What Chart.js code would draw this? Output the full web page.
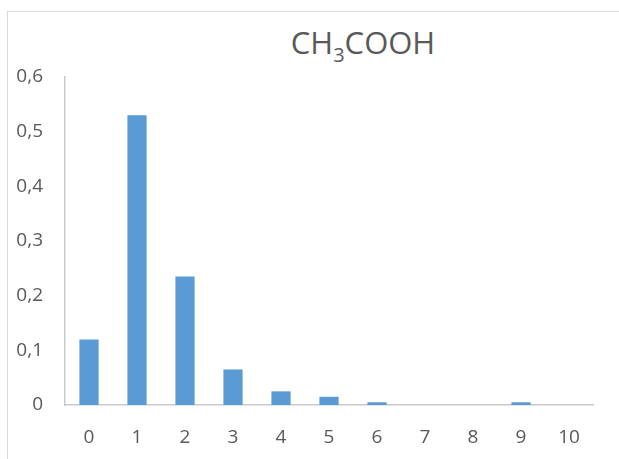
<!DOCTYPE html>
<html>
<head>
<meta charset="utf-8">
<script src="https://cdn.jsdelivr.net/npm/chart.js@4"></script>
<style>
  html, body { margin:0; padding:0; background:#fff; width:619px; height:459px; overflow:hidden; }
  #frame { position:absolute; left:7px; top:11px; width:700px; height:500px;
           border-left:1px solid #d9d9d9; border-top:1px solid #d9d9d9; }
  #wrap { position:absolute; left:0; top:0; width:619px; height:459px; }
  #title { position:absolute; left:213px; top:27px; width:300px; text-align:center;
           font-family:"Open Sans", sans-serif; font-size:31px; line-height:31px; color:#595959; }
  #title span.sub { font-size:20px; position:relative; top:8px; }
</style>
</head>
<body>
<div id="frame"></div>
<div id="title">CH<span class="sub">3</span>COOH</div>
<div id="wrap"><canvas id="c" width="619" height="459"></canvas></div>
<script>
const categories = ['0','1','2','3','4','5','6','7','8','9','10'];
const values = [0.12, 0.53, 0.235, 0.065, 0.025, 0.015, 0.005, 0, 0, 0.005, 0];
const yTickLabels = ['0','0,1','0,2','0,3','0,4','0,5','0,6'];

const tickFont = { family: '"Open Sans", sans-serif', size: 19 };
new Chart(document.getElementById('c'), {
  type: 'bar',
  data: {
    labels: categories,
    datasets: [{ data: values, backgroundColor: '#5B9BD5', borderWidth: 0,
                 categoryPercentage: 1.0, barPercentage: 0.4 }]
  },
  options: {
    responsive: false,
    animation: false,
    layout: { padding: { left: 0, right: 26, top: 77, bottom: 0 } },
    plugins: { legend: { display: false }, title: { display: false }, tooltip: { enabled: false } },
    scales: {
      x: {
        grid: { display: false, drawTicks: false },
        border: { color: '#c9c9c9', width: 1.5 },
        ticks: { color: '#595959', font: tickFont, padding: 21, maxRotation: 0, autoSkip: false },
        afterFit: s => { s.height = 54; }
      },
      y: {
        min: 0, max: 0.6,
        grid: { display: false, drawTicks: false },
        border: { color: '#c9c9c9', width: 1.5 },
        ticks: { color: '#595959', font: tickFont, padding: 22, stepSize: 0.1,
                 callback: (v, i) => yTickLabels[i] },
        afterFit: s => { s.width = 65; }
      }
    }
  }
});
</script>
</body>
</html>
